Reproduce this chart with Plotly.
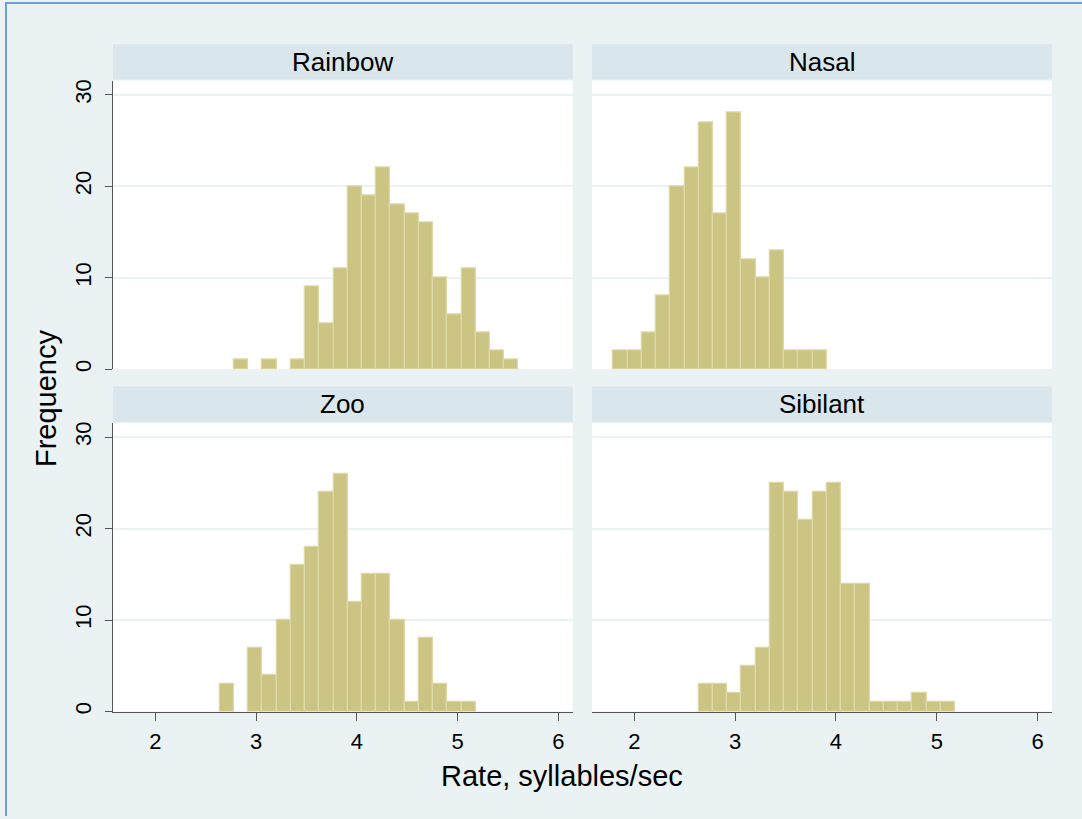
import numpy as np
import plotly.graph_objects as go

# Histogram bins shared by all four passages
bin_start = 1.792
bin_width = 0.1412
n_bins = 27

panels = ["Rainbow", "Nasal", "Zoo", "Sibilant"]

rainbow = [0, 0, 0, 0, 0, 0, 0, 1, 0, 1, 0, 1, 9, 5, 11, 20, 19, 22, 18, 17, 16, 10, 6, 11, 4, 2, 1]
nasal = [2, 2, 4, 8, 20, 22, 27, 17, 28, 12, 10, 13, 2, 2, 2, 0, 0, 0, 0, 0, 0, 0, 0, 0, 0, 0, 0]
zoo = [0, 0, 0, 0, 0, 0, 3, 0, 7, 4, 10, 16, 18, 24, 26, 12, 15, 15, 10, 1, 8, 3, 1, 1, 0, 0, 0]
sibilant = [0, 0, 0, 0, 0, 0, 3, 3, 2, 5, 7, 25, 24, 21, 24, 25, 14, 14, 1, 1, 1, 2, 1, 1, 0, 0, 0]

x_ticks = [2, 3, 4, 5, 6]
y_ticks = [0, 10, 20, 30]

counts = {"Rainbow": rainbow, "Nasal": nasal, "Zoo": zoo, "Sibilant": sibilant}

W, H = 1082, 819
BG = "#EAF2F3"
STRIP = "#D9E6EB"
FILL = "#CCC483"
EDGE = "#DED8A8"
AXIS = "#555555"
FONT = "Liberation Sans, Arial, sans-serif"

# pixel boxes of the plot areas (left, right) and (top, bottom)
cols = [(113, 572.7), (592, 1052)]
rows = [(80, 370), (424, 714)]
strip_h = 35.5


def px_x(v):
    return v / W


def px_y(v):
    return 1 - v / H


centers = bin_start + bin_width * (np.arange(n_bins) + 0.5)

fig = go.Figure()
layout = {}
shapes = []
annotations = []

for i, name in enumerate(panels):
    r, c = divmod(i, 2)
    idx = i + 1
    xa = "x" if idx == 1 else f"x{idx}"
    ya = "y" if idx == 1 else f"y{idx}"
    vals = np.array(counts[name], dtype=float)
    keep = vals > 0
    fig.add_trace(go.Bar(
        x=centers[keep], y=vals[keep], width=bin_width,
        marker=dict(color=FILL, line=dict(color=EDGE, width=1.3)),
        xaxis=xa, yaxis=ya, showlegend=False, hoverinfo="x+y",
    ))
    x0, x1 = cols[c]
    top, bot = rows[r]
    bottom_row = r == 1
    left_col = c == 0
    layout["xaxis" if idx == 1 else f"xaxis{idx}"] = dict(
        domain=[px_x(x0), px_x(x1)], anchor=ya, range=[1.58, 6.143],
        tickvals=x_ticks, showgrid=False, zeroline=False,
        showline=bottom_row, linecolor=AXIS, linewidth=1,
        ticks="outside" if bottom_row else "", ticklen=8, tickcolor=AXIS,
        showticklabels=bottom_row, ticklabelstandoff=2,
        tickfont=dict(family=FONT, size=22, color="black"),
    )
    layout["yaxis" if idx == 1 else f"yaxis{idx}"] = dict(
        domain=[px_y(bot), px_y(top)], anchor=xa, range=[0, 31.55],
        tickvals=y_ticks, showgrid=True, gridcolor=BG, gridwidth=2,
        zeroline=False,
        showline=left_col, linecolor=AXIS, linewidth=1,
        ticks="outside" if left_col else "", ticklen=7, tickcolor=AXIS,
        showticklabels=left_col, tickangle=-90, ticklabelstandoff=5,
        tickfont=dict(family=FONT, size=22, color="black"),
    )
    # strip with the passage name above each panel
    shapes.append(dict(type="rect", xref="paper", yref="paper",
                       x0=px_x(x0), x1=px_x(x1),
                       y0=px_y(top - 1), y1=px_y(top - 1 - strip_h),
                       fillcolor=STRIP, line=dict(width=0), layer="below"))
    annotations.append(dict(text=name, xref="paper", yref="paper",
                            x=px_x((x0 + x1) / 2), y=px_y(top - 1 - strip_h / 2),
                            xanchor="center", yanchor="middle", showarrow=False,
                            font=dict(family=FONT, size=26, color="black")))

# frame lines along the top and left edge
shapes.append(dict(type="line", xref="paper", yref="paper",
                   x0=px_x(5), x1=1, y0=px_y(2), y1=px_y(2),
                   line=dict(color="#6FA0DA", width=2)))
shapes.append(dict(type="line", xref="paper", yref="paper",
                   x0=px_x(6), x1=px_x(6), y0=px_y(2), y1=0,
                   line=dict(color="#6FA0DA", width=2)))

annotations.append(dict(text="Frequency", xref="paper", yref="paper",
                        x=px_x(46), y=px_y(399), textangle=-90,
                        xanchor="center", yanchor="middle", showarrow=False,
                        font=dict(family=FONT, size=29, color="black")))
annotations.append(dict(text="Rate, syllables/sec", xref="paper", yref="paper",
                        x=px_x(561.5), y=px_y(779),
                        xanchor="center", yanchor="middle", showarrow=False,
                        font=dict(family=FONT, size=29, color="black")))

fig.update_layout(
    width=W, height=H, margin=dict(l=0, r=0, t=0, b=0),
    paper_bgcolor=BG, plot_bgcolor="white", bargap=0,
    shapes=shapes, annotations=annotations, **layout,
)

fig.write_html("out.html")
